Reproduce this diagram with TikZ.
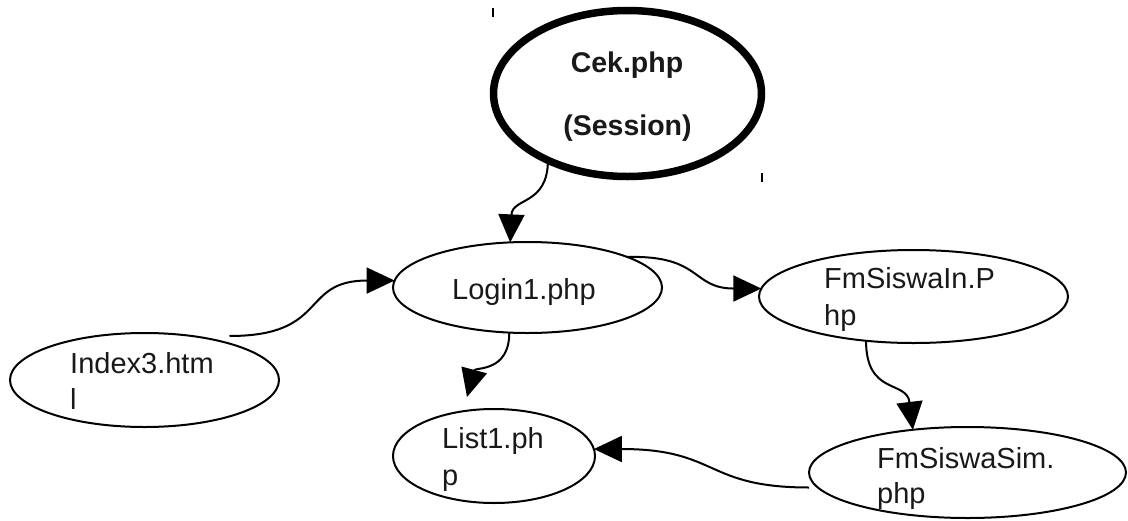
\documentclass[tikz,border=0pt]{standalone}
\usepackage{fontspec}
\setmainfont{Liberation Sans}
\usetikzlibrary{shapes.geometric,arrows.meta,calc}
\begin{document}
\begin{tikzpicture}[x=1pt,y=-1pt,
  ell/.style={draw=black, ellipse, inner sep=0pt, outer sep=0pt, line width=2pt},
  lbl/.style={anchor=base west, inner sep=0pt, text=black!90, font=\fontsize{29}{35}\selectfont},
  boldlbl/.style={anchor=base, inner sep=0pt, text=black!90, font=\fontsize{28.5}{35}\selectfont\bfseries},
  conn/.style={line width=2pt, -{Triangle[length=28pt,width=26pt]}},
  tick/.style={line width=1.5pt}]
\useasboundingbox (0,0) rectangle (1128,520);

% ellipses
\node[ell, line width=7.5pt, minimum width=268pt, minimum height=166pt] (cek) at (627.5,93.5) {};
\node[ell, minimum width=269pt, minimum height=91pt] (login) at (527.5,287.5) {};
\node[ell, minimum width=309pt, minimum height=93pt] (fmin) at (913.5,296.5) {};
\node[ell, minimum width=269pt, minimum height=94pt] (idx) at (144.5,380) {};
\node[ell, minimum width=202pt, minimum height=94pt] (list) at (494,456) {};
\node[ell, minimum width=317pt, minimum height=91pt] (fmsim) at (967.5,472.5) {};

% texts
\node[boldlbl] (cekA) at (627,72) {Cek.php};
\node[boldlbl] (cekB) at (627.5,135) {(Session)};
\node[lbl] (loginA) at (452,299) {Login1.php};
\node[lbl] (fminA) at (824,288) {FmSiswaIn.P};
\node[lbl] (fminB) at (824,325) {hp};
\node[lbl] (idxA) at (70,373) {Index3.htm};
\node[lbl] (idxB) at (70,409) {l};
\node[lbl] (listA) at (442,448) {List1.ph};
\node[lbl] (listB) at (442,485) {p};
\node[lbl] (fmsimA) at (877,468) {FmSiswaSim.};
\node[lbl] (fmsimB) at (877,503) {php};

% free ends
\coordinate (idxOut) at ($(idx.north)+(85,3)$);
\coordinate (listIn) at ($(list.north)+(-27,-12)$);
\coordinate (fmsimOut) at ($(fmsim.west)+(0,15)$);

% connectors
\draw[conn] (cek.220) .. controls +(0,45) and +(2,-45) .. (login.111);
\draw[conn] (idxOut) .. controls +(100,0) and +(-95,0) .. (login.177);
\draw[conn] (login.17) .. controls +(75,-2) and +(-70,0) .. (fmin.177.5);
\draw[conn] (login.248) .. controls +(0,40) and +(8,-30) .. (listIn);
\draw[conn] (fmin.223) .. controls +(0,55) and +(-6,-50) .. (fmsim.142);
\draw[conn] (fmsimOut) .. controls +(-105,0) and +(125,0) .. (list.4);

% stray marks
\draw[tick] (493,8) -- (493,17);
\draw[tick] (762,173) -- (762,182);
\end{tikzpicture}
\end{document}
